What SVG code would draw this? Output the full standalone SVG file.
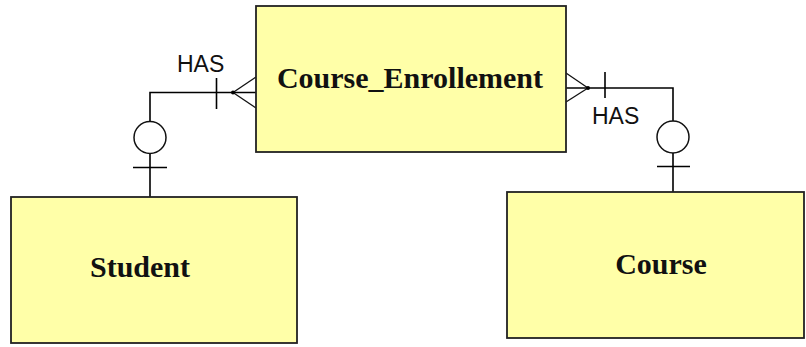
<svg xmlns="http://www.w3.org/2000/svg" width="806" height="347" viewBox="0 0 806 347">
<style>
.box{fill:#FFFFA8;stroke:#222;stroke-width:1.8}
.lbl{font-family:"Liberation Serif","Times New Roman",serif;font-weight:bold;font-size:30px;fill:#111;text-anchor:middle}
.rel{font-family:"Liberation Sans",Arial,sans-serif;font-size:23px;fill:#111}
.ln{fill:none;stroke:#000;stroke-width:1.6}
.crow{fill:none;stroke:#111;stroke-width:1.3}
.opt{fill:#fff;stroke:#111;stroke-width:1.5}
</style>
<rect width="806" height="347" fill="#fff"/>
<g id="connectors">
  <!-- Student - Course_Enrollement -->
  <path class="ln" d="M150,197 V92.5 H256"/>
  <line class="ln" x1="216.5" y1="78" x2="216.5" y2="109"/>
  <line class="ln" x1="133" y1="167.5" x2="167" y2="167.5"/>
  <circle class="opt" cx="150" cy="137.5" r="16"/>
  <line class="crow" x1="233" y1="92.5" x2="256" y2="77"/>
  <line class="crow" x1="233" y1="92.5" x2="256" y2="108"/>
  <circle cx="233" cy="92.5" r="2" fill="#000"/>
  <text class="rel" x="177" y="72">HAS</text>
  <!-- Course - Course_Enrollement -->
  <path class="ln" d="M566,88 H673 V192"/>
  <line class="ln" x1="605" y1="72" x2="605" y2="98"/>
  <line class="ln" x1="657" y1="166.5" x2="690" y2="166.5"/>
  <circle class="opt" cx="673" cy="137" r="16"/>
  <line class="crow" x1="588" y1="88" x2="566" y2="73"/>
  <line class="crow" x1="588" y1="88" x2="566" y2="102"/>
  <circle cx="588" cy="88" r="2" fill="#000"/>
  <text class="rel" x="592" y="124">HAS</text>
</g>
<g id="course_enrollement">
  <rect class="box" x="256" y="6" width="310" height="146"/>
  <text class="lbl" x="410" y="88">Course_Enrollement</text>
</g>
<g id="student">
  <rect class="box" x="11" y="197" width="286" height="146"/>
  <text class="lbl" x="140" y="277">Student</text>
</g>
<g id="course">
  <rect class="box" x="507" y="192" width="297" height="146"/>
  <text class="lbl" x="661" y="274">Course</text>
</g>
</svg>
